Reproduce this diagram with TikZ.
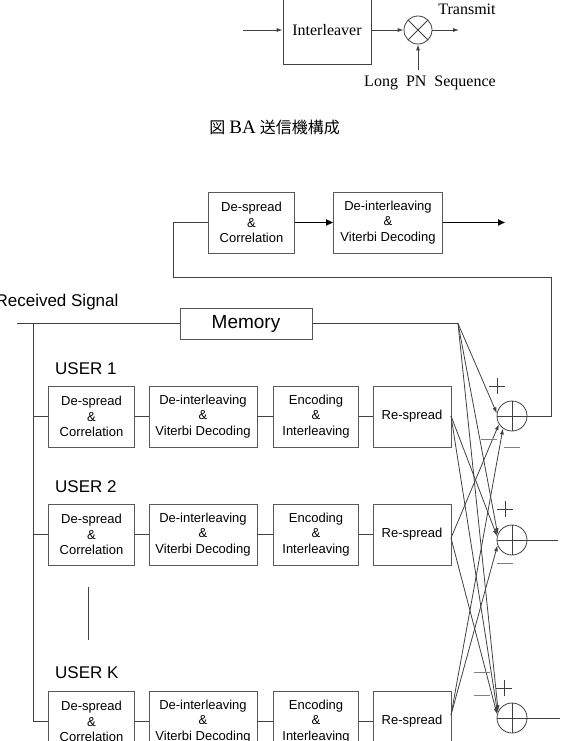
\documentclass[tikz,border=0pt]{standalone}
\usepackage{fontspec}
\setmainfont{Liberation Serif}
\setsansfont{Liberation Sans}
\newfontfamily\cjk{Noto Sans CJK JP}
\usetikzlibrary{arrows.meta,calc}
\begin{document}
\begin{tikzpicture}[x=1pt,y=-1pt,
  ln/.style={draw=black!75, line width=0.8pt},
  blk/.style={draw=black!65, line width=0.8pt, minimum height=61pt, inner sep=0pt, align=center,
    font=\sffamily\fontsize{13}{15.5}\selectfont},
  sumc/.style={circle, draw=black!75, line width=0.8pt, minimum size=30pt, inner sep=0pt,
    path picture={\draw[black!75,line width=0.8pt] (path picture bounding box.north) -- (path picture bounding box.south)
      (path picture bounding box.west) -- (path picture bounding box.east);}},
  mulc/.style={circle, draw=black!75, line width=0.8pt, minimum size=28pt, inner sep=0pt,
    path picture={\draw[black!75,line width=0.8pt] (path picture bounding box.north west) -- (path picture bounding box.south east)
      (path picture bounding box.south west) -- (path picture bounding box.north east);}},
  arr/.style={ln, -{Latex[length=6pt,width=4pt]}},
  thk/.style={draw=black, line width=1.6pt, -{Triangle[length=7pt,width=6pt]}},
  serif16/.style={font=\fontsize{16}{18}\selectfont, inner sep=0pt},
  usr/.style={font=\sffamily\fontsize{17}{17}\selectfont, inner sep=0pt, anchor=west},
  plussign/.pic={\draw[black!75,line width=0.7pt] (-8,0) -- (8,0) (0,-8) -- (0,8);},
  minussign/.pic={\draw[black!50,line width=0.8pt] (-8,0) -- (8,0);}
]
\useasboundingbox (0,0) rectangle (564,741);
\clip (0,0) rectangle (564,741);

% ---------- transmitter ----------
\node[draw=black!75, line width=0.8pt, minimum width=88pt, minimum height=68pt, inner sep=0pt, font=\fontsize{16}{18}\selectfont] (il) at (327,30) {Interleaver};
\coordinate (tin) at (243,30);
\node[mulc] (mul) at (418,30) {};
\coordinate (tout) at (459,30);
\coordinate (pn) at (418,70);
\draw[arr] (tin) -- (il.west);
\draw[arr] (il.east) -- (mul.west);
\draw[arr] (mul.east) -- (tout);
\draw[arr] (pn) -- (mul.south);
\node[serif16] (tx) at (467,9) {Transmit};
\node[serif16] (pnl) at (430,83) {Long\hspace{8pt}PN\hspace{8pt}Sequence};
\node[inner sep=0pt, anchor=east] (cap) at (340,127) {{\cjk\fontsize{16}{16}\selectfont 図}\hspace{4pt}{\fontsize{19}{19}\selectfont BA}\hspace{4pt}{\cjk\fontsize{16}{16}\selectfont 送信機構成}};

% ---------- receiver top ----------
\node[blk, minimum width=86pt] (ds) at (251.5,222.5) {De-spread\\\&\\Correlation};
\node[blk, minimum width=109pt] (di) at (388,222.5) {De-interleaving\\\&\\Viterbi Decoding};
\coordinate (dout) at (505,222.5);
\draw[thk] (ds.east) -- (di.west);
\draw[thk] (di.east) -- (dout);

% ---------- received signal / memory ----------
\node[font=\sffamily\fontsize{17}{17}\selectfont, inner sep=0pt] (rsig) at (57,302) {Received Signal};
\node[draw=black!65, line width=0.8pt, minimum width=132pt, minimum height=31pt, inner sep=0pt,
  font=\sffamily\fontsize{19}{19}\selectfont] (mem) at (246,323.5) {Memory};
\coordinate (rin) at (17,323.5);
\coordinate (bus) at (33,323.5);
\coordinate (mfan) at (458,323.5);
\draw[ln] (rin) -- (mem.west);
\draw[ln] (mem.east) -- (mfan);

% ---------- users ----------
\node[usr] (u1) at (55,369) {USER 1};
\node[usr] (u2) at (55,487) {USER 2};
\node[usr] (uK) at (55,673) {USER K};

\foreach \n/\y in {1/416.5, 2/534.5, K/721.5}{
  \node[blk, minimum width=86pt] (d\n) at (91.5,\y) {De-spread\\\&\\Correlation};
  \node[blk, minimum width=108pt] (v\n) at (203,\y) {De-interleaving\\\&\\Viterbi Decoding};
  \node[blk, minimum width=85pt] (e\n) at (316,\y) {Encoding\\\&\\Interleaving};
  \node[blk, minimum width=78pt] (r\n) at (412,\y) {Re-spread};
  \draw[ln] (bus |- d\n.west) -- (d\n.west);
  \draw[ln] (d\n.east) -- (v\n.west);
  \draw[ln] (v\n.east) -- (e\n.west);
  \draw[ln] (e\n.east) -- (r\n.west);
}
\draw[ln] (bus) -- (bus |- dK.west);
\coordinate (dots1) at (88,587);
\coordinate (dots2) at (88,640);
\draw[ln] (dots1) -- (dots2);

% ---------- summing circles ----------
\node[sumc] (c1) at (512,416) {};
\node[sumc] (c2) at (512,540) {};
\node[sumc] (cK) at (512,718) {};

\coordinate (o1) at (451,416);
\coordinate (o2) at (451,538);
\coordinate (oK) at (451,715);

\draw[arr] (mfan) -- (c1.170);
\draw[arr] (o2) -- (c1.212);
\draw[arr] (oK) -- (c1.234);

\draw[arr] (mfan) -- (c2.158);
\draw[arr] (o1) -- (c2.166);
\draw[arr] (oK) -- (c2.200);

\draw[arr] (mfan) -- (cK.154);
\draw[arr] (o1) -- (cK.160);
\draw[arr] (o2) -- (cK.166);

% outputs
\coordinate (fbR) at (551,277);
\coordinate (fbL) at (173,277);
\draw[ln] (c1.east) -| (fbR) -- (fbL) |- (ds.west);
\coordinate (c2o) at (558,540);
\coordinate (cKo) at (560,718);
\draw[ln] (c2.east) -- (c2o);
\draw[ln] (cK.east) -- (cKo);

% signs
\pic at (497,386) {plussign};
\pic at (489,439) {minussign};
\pic at (512,447) {minussign};
\pic at (505,509) {plussign};
\pic at (505,563) {minussign};
\pic at (504,688) {plussign};
\pic at (482,672) {minussign};
\pic at (482,695) {minussign};
\end{tikzpicture}
\end{document}
